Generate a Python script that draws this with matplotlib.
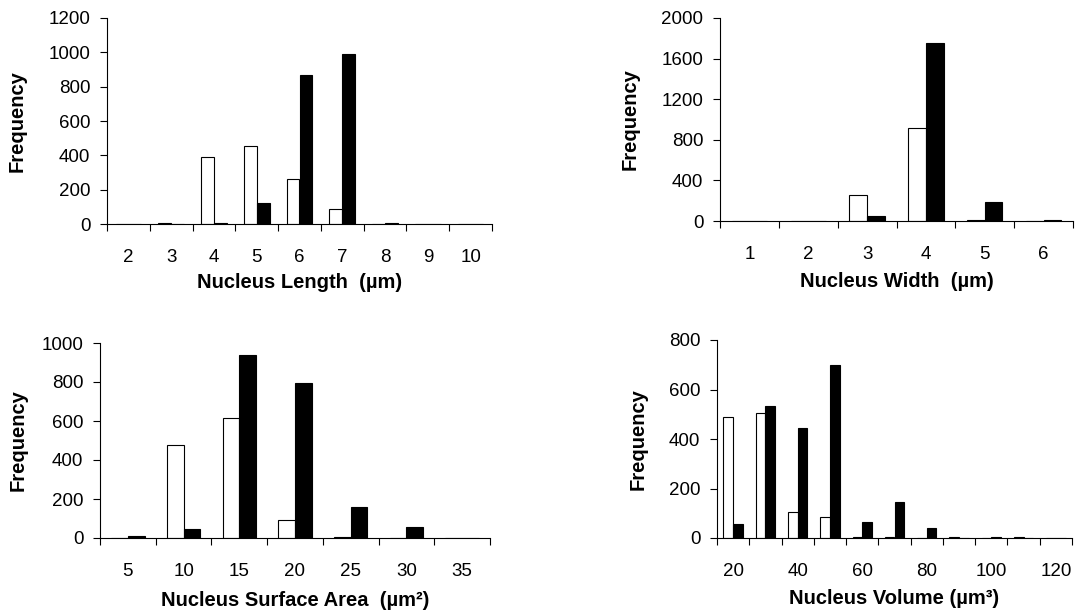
import numpy as np
import matplotlib
matplotlib.use("Agg")
import matplotlib.pyplot as plt

plt.rcParams['font.family'] = ['Liberation Sans', 'DejaVu Sans']

# histogram bins and counts (white = first group, black = second group)
length_bins = [2, 3, 4, 5, 6, 7, 8, 9, 10]
length_white = [0, 4, 390, 455, 260, 85, 0, 0, 0]
length_black = [0, 0, 4, 125, 870, 990, 4, 0, 0]

width_bins = [1, 2, 3, 4, 5, 6]
width_white = [0, 4, 260, 920, 5, 0]
width_black = [0, 0, 50, 1750, 190, 8]

area_bins = [5, 10, 15, 20, 25, 30, 35]
area_white = [0, 475, 615, 90, 3, 0, 0]
area_black = [8, 45, 940, 795, 160, 55, 0]

volume_bins = [20, 30, 40, 50, 60, 70, 80, 90, 100, 110, 120]
volume_white = [490, 505, 105, 85, 3, 3, 0, 3, 0, 3, 0]
volume_black = [55, 535, 445, 700, 65, 145, 40, 0, 6, 0, 0]

W, H = 1076, 613
fig = plt.figure(figsize=(W / 100, H / 100), dpi=100)


def make_axes(box):
    left, right, top, bottom = box
    return fig.add_axes([left / W, 1 - bottom / H,
                         (right - left) / W, (bottom - top) / H])


def histo(box, bins, white, black, ymax, ystep, xlabel, ylab_right, xlab_gap,
          label_every=1):
    ax = make_axes(box)
    left, right, top, bottom = box
    n = len(bins)
    x = np.arange(n) + 0.5
    bw = 0.3
    ax.bar(x - bw / 2, white, width=bw, color='white', edgecolor='black', linewidth=0.8)
    ax.bar(x + bw / 2, black, width=bw, color='black', edgecolor='black', linewidth=0.8)
    ax.set_xlim(0, n)
    ax.set_ylim(0, ymax)
    ax.set_yticks(np.arange(0, ymax + 1, ystep))
    ax.set_xticks(x)
    ax.set_xticklabels([str(b) if i % label_every == 0 else '' for i, b in enumerate(bins)])
    ax.set_xticks(np.arange(n + 1), minor=True)
    ax.tick_params(axis='x', which='major', length=0, pad=18, labelsize=13.5)
    ax.tick_params(axis='x', which='minor', length=5, width=0.8, direction='out')
    ax.tick_params(axis='y', length=5, width=0.8, pad=7, labelsize=13.5)
    for s in ['top', 'right']:
        ax.spines[s].set_visible(False)
    for s in ['left', 'bottom']:
        ax.spines[s].set_linewidth(0.8)
    ax.set_ylabel('Frequency', fontsize=14.5, fontweight='bold')
    ax.yaxis.set_label_coords((ylab_right - left) / (right - left), 0.5)
    ax.set_xlabel(xlabel, fontsize=14.5, fontweight='bold')
    ax.xaxis.set_label_coords(0.5, -xlab_gap / (bottom - top))
    return ax


histo((107, 492, 18, 224), length_bins, length_white, length_black, 1200, 200,
      'Nucleus Length  (\u00b5m)', 27, 49)

histo((720, 1073, 18, 221), width_bins, width_white, width_black, 2000, 400,
      'Nucleus Width  (\u00b5m)', 640, 51)

histo((100, 490, 343, 538), area_bins, area_white, area_black, 1000, 200,
      'Nucleus Surface Area  (\u00b5m\u00b2)', 28, 53)

histo((717, 1072, 340, 538), volume_bins, volume_white, volume_black, 800, 200,
      'Nucleus Volume (\u00b5m\u00b3)', 648, 51, label_every=2)

fig.savefig('out.png', dpi=100)
